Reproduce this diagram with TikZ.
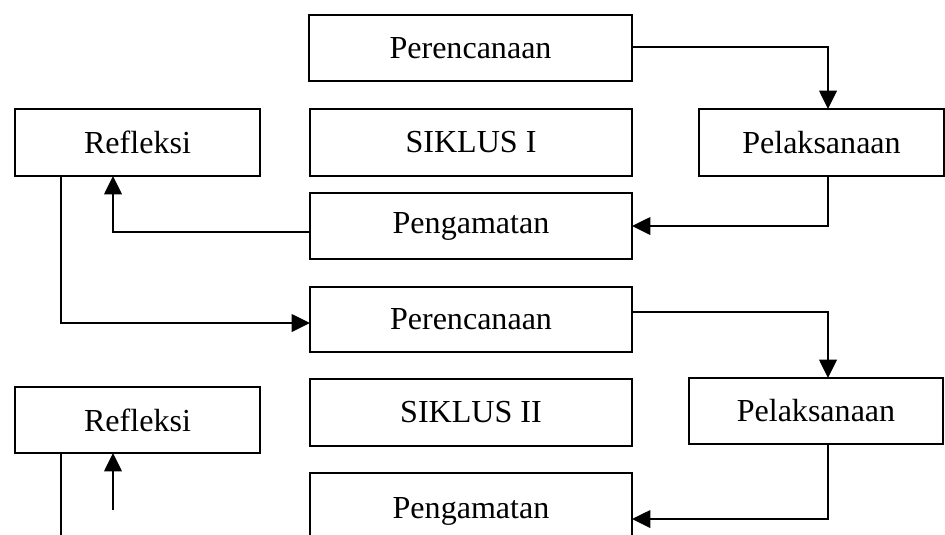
\documentclass[tikz,border=0pt]{standalone}
\usepackage{fontspec}
\setmainfont{Liberation Serif}
\usetikzlibrary{arrows.meta}

\begin{document}
\begin{tikzpicture}[x=0.025cm,y=-0.025cm,
		box/.style={draw,line width=1.1pt,inner sep=0pt,outer sep=0pt,
			font=\fontsize{22.8}{27}\selectfont},
		arr/.style={line width=1.2pt,-{Triangle[length=13pt,width=12.5pt]}},
		line/.style={line width=1.1pt}]
				\def\px{0.025cm}
				\clip (0,0) rectangle (945,534);
				
				% siklus I
				\node[box,minimum width=323*\px,minimum height=66*\px] (perI) at (470.5,48) {Perencanaan};
				\node[box,minimum width=245*\px,minimum height=67*\px] (refI) at (137.5,142.5) {Refleksi};
				\node[box,minimum width=322*\px,minimum height=67*\px] (sikI) at (471,142.5) {SIKLUS I};
				\node[box,minimum width=245*\px,minimum height=67*\px] (pelI) at (821.5,142.5) {Pelaksanaan};
				\node[box,minimum width=322*\px,minimum height=66*\px] (pengI) at (471,226) {Pengamatan};
				
				% siklus II
				\node[box,minimum width=322*\px,minimum height=65*\px] (perII) at (471,319.5) {Perencanaan};
				\node[box,minimum width=245*\px,minimum height=66*\px] (refII) at (137.5,420) {Refleksi};
				\node[box,minimum width=322*\px,minimum height=67*\px] (sikII) at (471,412.5) {SIKLUS II};
				\node[box,minimum width=254*\px,minimum height=66*\px] (pelII) at (816,411) {Pelaksanaan};
				\node[box,minimum width=322*\px,minimum height=76*\px] (pengII) at (471,511) {Pengamatan};
				
				\coordinate (colR) at (828,0);
				\coordinate (colA) at (113,0);
				\coordinate (colL) at (61,0);
				\coordinate (refII-out) at (61,540);
				\coordinate (refII-in) at (113,510);
				
				\draw[arr] ([yshift=1*\px]perI.east) -| (pelI.north -| colR);
				\draw[arr] (pelI.south -| colR) |- (pengI.east);
				\draw[arr] ([yshift=-6*\px]pengI.west) -| (refI.south -| colA);
				\draw[arr] (refI.south -| colL) |- ([yshift=-3.5*\px]perII.west);
				\draw[arr] ([yshift=7.5*\px]perII.east) -| (pelII.north -| colR);
				\draw[arr] (pelII.south -| colR) |- ([yshift=-8*\px]pengII.east);
				\draw[line] (refII.south -| refII-out) -- (refII-out);
				\draw[arr] (refII-in) -- (refII-in |- refII.south);
			\end{tikzpicture}
\end{document}
